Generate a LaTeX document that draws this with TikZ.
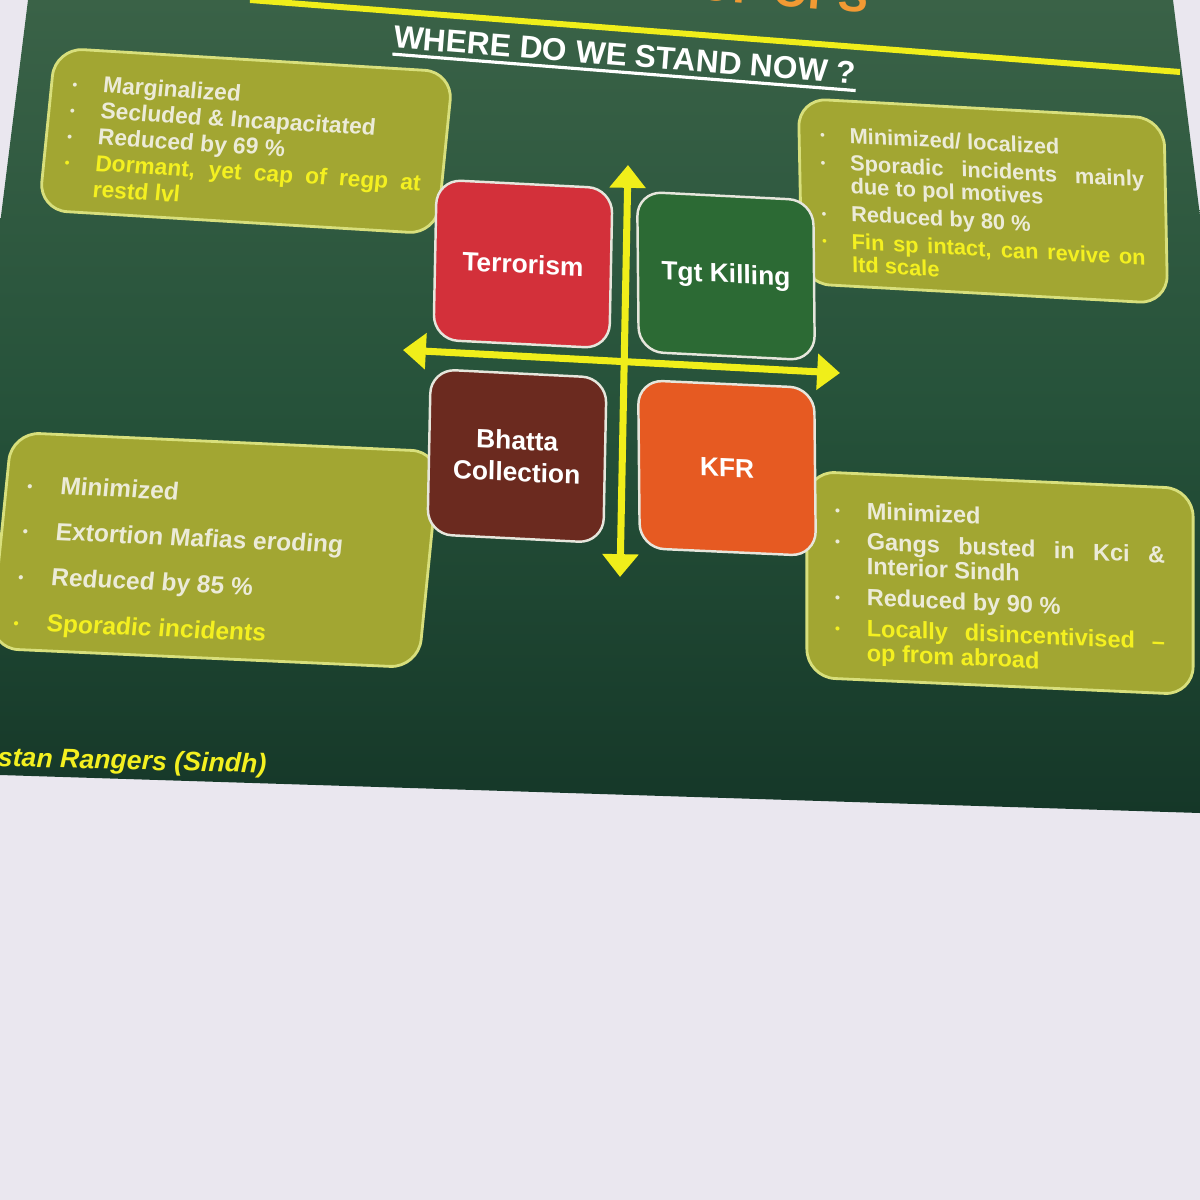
\documentclass[tikz,border=0pt]{standalone}
\usepackage{fontspec}
\setmainfont{Liberation Sans}
\usepackage{tikz}
\usetikzlibrary{arrows.meta, positioning}
\definecolor{paper}{RGB}{234, 231, 239}
\definecolor{slidetop}{RGB}{58, 98, 71}
\definecolor{slidemid}{RGB}{38, 82, 58}
\definecolor{slidebottom}{RGB}{21, 55, 40}
\definecolor{boxfill}{RGB}{162, 166, 50}
\definecolor{boxrim}{RGB}{216, 223, 124}
\definecolor{boxtext}{RGB}{236, 235, 216}
\definecolor{hiyellow}{RGB}{244, 240, 32}
\definecolor{axisyellow}{RGB}{240, 238, 26}
\definecolor{headorange}{RGB}{242, 154, 51}
\definecolor{quadrim}{RGB}{230, 230, 220}
\definecolor{terrred}{RGB}{211, 48, 58}
\definecolor{tgtgreen}{RGB}{44, 106, 52}
\definecolor{bhattabrown}{RGB}{107, 42, 31}
\definecolor{kfrorange}{RGB}{230, 90, 34}
\hyphenpenalty=10000
\exhyphenpenalty=10000
\newcommand{\bitem}[2][boxtext]{\par\hangindent=1.35em\hangafter=1\noindent{\color{#1}\makebox[1.35em][l]{\raisebox{0.15ex}{\scalebox{0.6}{\textbullet}}}#2}\par}

\begin{document}
\begin{tikzpicture}[x=0.1mm, y=-0.1mm,
  infobox/.style={draw=boxrim, fill=boxfill, line width=0.8pt, rounded corners=8pt,
    text width=#1, align=justify, inner xsep=6pt, inner ysep=4pt},
  quadbox/.style={draw=quadrim, line width=0.7pt, rounded corners=7pt,
    minimum width=1.76cm, minimum height=1.6cm, text=white, align=center,
    font=\fontsize{7.5}{9}\selectfont\bfseries},
  axisarrow/.style={axisyellow, line width=2pt,
    {Triangle[length=6.5pt,width=10pt]}-{Triangle[length=6.5pt,width=10pt]}}]
  \useasboundingbox (0,0) rectangle (1200,1200);
  \clip (0,0) rectangle (1200,1200);
  % paper and slide
  \fill[paper] (0,0) rectangle (1200,1200);
  \shade[top color=slidetop, bottom color=slidebottom, middle color=slidemid]
    (28,0) -- (1173,0) -- (1200,216) -- (1200,813) -- (0,775) -- (0,224) -- cycle;
  \draw[axisyellow, line width=1.7pt] (250,0) -- (1180,72);

  % heading
  \node[anchor=base east, rotate=-4.5, inner sep=0, text=headorange,
    font=\fontsize{12.8}{14}\selectfont\bfseries] (heading) at (868,13) {OF OPS};
  \node[anchor=base, rotate=-4.5, inner sep=0, text=white,
    font=\fontsize{9}{10}\selectfont\bfseries] (title) at (624,66) {WHERE DO WE STAND NOW ?};
  \draw[white, line width=0.9pt] ([yshift=-1.8pt]title.base west) -- ([yshift=-1.8pt]title.base east);

  % notes
  \node[infobox=3.58cm, minimum height=1.62cm, xslant=0.1, yslant=-0.06,
    font=\fontsize{6.5}{7.4}\selectfont\bfseries] (terrnotes) at (246,141) {%
    \bitem{Marginalized}
    \bitem{Secluded \& Incapacitated}
    \bitem{Reduced by 69 \%}
    \bitem[hiyellow]{Dormant, yet cap of regp at restd lvl}\vspace{4pt}};
  \node[infobox=3.23cm, minimum height=1.55cm, xslant=-0.02, yslant=-0.055,
    font=\fontsize{6.2}{6.5}\selectfont\bfseries\setlength{\parskip}{1.4pt}] (tgtnotes) at (983,201) {%
    \bitem{Minimized/ localized}
    \bitem{Sporadic incidents mainly due to pol motives}
    \bitem{Reduced by 80 \%}
    \bitem[hiyellow]{Fin sp intact, can revive on ltd scale}};
  \node[infobox=3.88cm, minimum height=1.95cm, xslant=0.1, yslant=-0.045,
    font=\fontsize{7}{13}\selectfont\bfseries] (bhattanotes) at (215,550) {%
    \bitem{Minimized}
    \bitem{Extortion Mafias eroding}
    \bitem{Reduced by 85 \%}
    \bitem[hiyellow]{Sporadic incidents}};
  \node[infobox=3.3cm, minimum height=1.88cm, inner xsep=8pt, yslant=-0.045,
    font=\fontsize{6.7}{7}\selectfont\bfseries\setlength{\parskip}{1.8pt}] (kfrnotes) at (1000,583) {%
    \bitem{Minimized}
    \bitem{Gangs busted in Kci \& Interior Sindh}
    \bitem{Reduced by 90 \%}
    \bitem[hiyellow]{Locally disincentivised~-- op from abroad}};

  % axes
  \coordinate (axisW) at (403,350);
  \coordinate (axisE) at (840,373);
  \coordinate (axisN) at (628,165);
  \coordinate (axisS) at (620,577);
  \draw[axisarrow] (axisW) -- (axisE);
  \draw[axisarrow] (axisS) -- (axisN);

  % quadrants
  \node[quadbox, fill=terrred, xslant=0.02, yslant=-0.05] (terror) at (523,264) {Terrorism};
  \node[quadbox, fill=tgtgreen, xslant=-0.01, yslant=-0.05] (tgt) at (726,276) {Tgt Killing};
  \node[quadbox, fill=bhattabrown, minimum height=1.65cm, xslant=0.02, yslant=-0.05] (bhatta) at (517,456) {Bhatta\\Collection};
  \node[quadbox, fill=kfrorange, minimum height=1.68cm, xslant=-0.01, yslant=-0.045] (kfr) at (727,468) {KFR};

  % footer
  \node[anchor=base west, rotate=-1.5, inner sep=0, text=hiyellow,
    font=\fontsize{7.6}{9}\selectfont\bfseries\itshape] (credit) at (-3,766) {stan Rangers (Sindh)};
\end{tikzpicture}
\end{document}
